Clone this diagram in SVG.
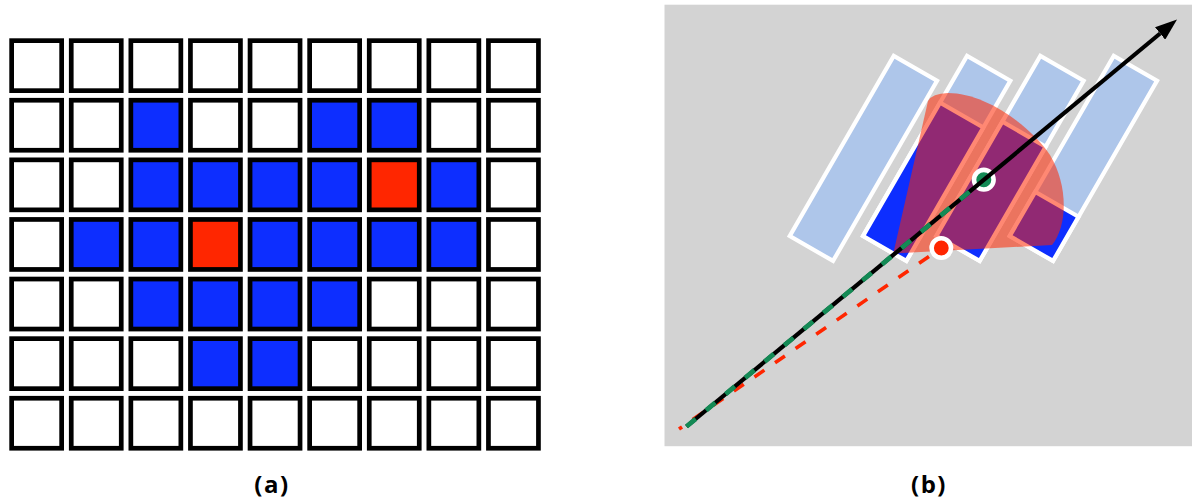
<svg xmlns="http://www.w3.org/2000/svg" width="1192" height="502" viewBox="0 0 1192 502">
<style>
.c{fill:#ffffff;stroke:#000000;stroke-width:4.7}
.b{fill:#0d2eff;stroke:#000000;stroke-width:4.7}
.r{fill:#ff2600;stroke:#000000;stroke-width:4.7}
.lb{fill:#aec6ea;stroke:#ffffff;stroke-width:4.2}
.db{fill:#0d2eff;stroke:#ffffff;stroke-width:4.2}
.lbl{font-family:"Open Sans","Noto Sans",sans-serif;font-weight:bold;font-size:24px;fill:#000;text-anchor:middle;letter-spacing:1.5px}
</style>
<defs>
<marker id="ah" viewBox="0 0 22 16" refX="0" refY="8" markerWidth="22" markerHeight="16" markerUnits="userSpaceOnUse" orient="auto">
<path d="M0,0 L22,8 L0,16 Z" fill="#000"/>
</marker>
</defs>
<rect width="1192" height="502" fill="#ffffff"/>
<g id="panel-a">
<g id="row0">
<rect class="c" x="11.65" y="40.65" width="50" height="50"/><rect class="c" x="71.25" y="40.65" width="50" height="50"/><rect class="c" x="130.85" y="40.65" width="50" height="50"/><rect class="c" x="190.45" y="40.65" width="50" height="50"/><rect class="c" x="250.05" y="40.65" width="50" height="50"/><rect class="c" x="309.65" y="40.65" width="50" height="50"/><rect class="c" x="369.25" y="40.65" width="50" height="50"/><rect class="c" x="428.85" y="40.65" width="50" height="50"/><rect class="c" x="488.45" y="40.65" width="50" height="50"/>
</g>
<g id="row1">
<rect class="c" x="11.65" y="100.25" width="50" height="50"/><rect class="c" x="71.25" y="100.25" width="50" height="50"/><rect class="b" x="130.85" y="100.25" width="50" height="50"/><rect class="c" x="190.45" y="100.25" width="50" height="50"/><rect class="c" x="250.05" y="100.25" width="50" height="50"/><rect class="b" x="309.65" y="100.25" width="50" height="50"/><rect class="b" x="369.25" y="100.25" width="50" height="50"/><rect class="c" x="428.85" y="100.25" width="50" height="50"/><rect class="c" x="488.45" y="100.25" width="50" height="50"/>
</g>
<g id="row2">
<rect class="c" x="11.65" y="159.85" width="50" height="50"/><rect class="c" x="71.25" y="159.85" width="50" height="50"/><rect class="b" x="130.85" y="159.85" width="50" height="50"/><rect class="b" x="190.45" y="159.85" width="50" height="50"/><rect class="b" x="250.05" y="159.85" width="50" height="50"/><rect class="b" x="309.65" y="159.85" width="50" height="50"/><rect class="r" x="369.25" y="159.85" width="50" height="50"/><rect class="b" x="428.85" y="159.85" width="50" height="50"/><rect class="c" x="488.45" y="159.85" width="50" height="50"/>
</g>
<g id="row3">
<rect class="c" x="11.65" y="219.45" width="50" height="50"/><rect class="b" x="71.25" y="219.45" width="50" height="50"/><rect class="b" x="130.85" y="219.45" width="50" height="50"/><rect class="r" x="190.45" y="219.45" width="50" height="50"/><rect class="b" x="250.05" y="219.45" width="50" height="50"/><rect class="b" x="309.65" y="219.45" width="50" height="50"/><rect class="b" x="369.25" y="219.45" width="50" height="50"/><rect class="b" x="428.85" y="219.45" width="50" height="50"/><rect class="c" x="488.45" y="219.45" width="50" height="50"/>
</g>
<g id="row4">
<rect class="c" x="11.65" y="279.05" width="50" height="50"/><rect class="c" x="71.25" y="279.05" width="50" height="50"/><rect class="b" x="130.85" y="279.05" width="50" height="50"/><rect class="b" x="190.45" y="279.05" width="50" height="50"/><rect class="b" x="250.05" y="279.05" width="50" height="50"/><rect class="b" x="309.65" y="279.05" width="50" height="50"/><rect class="c" x="369.25" y="279.05" width="50" height="50"/><rect class="c" x="428.85" y="279.05" width="50" height="50"/><rect class="c" x="488.45" y="279.05" width="50" height="50"/>
</g>
<g id="row5">
<rect class="c" x="11.65" y="338.65" width="50" height="50"/><rect class="c" x="71.25" y="338.65" width="50" height="50"/><rect class="c" x="130.85" y="338.65" width="50" height="50"/><rect class="b" x="190.45" y="338.65" width="50" height="50"/><rect class="b" x="250.05" y="338.65" width="50" height="50"/><rect class="c" x="309.65" y="338.65" width="50" height="50"/><rect class="c" x="369.25" y="338.65" width="50" height="50"/><rect class="c" x="428.85" y="338.65" width="50" height="50"/><rect class="c" x="488.45" y="338.65" width="50" height="50"/>
</g>
<g id="row6">
<rect class="c" x="11.65" y="398.25" width="50" height="50"/><rect class="c" x="71.25" y="398.25" width="50" height="50"/><rect class="c" x="130.85" y="398.25" width="50" height="50"/><rect class="c" x="190.45" y="398.25" width="50" height="50"/><rect class="c" x="250.05" y="398.25" width="50" height="50"/><rect class="c" x="309.65" y="398.25" width="50" height="50"/><rect class="c" x="369.25" y="398.25" width="50" height="50"/><rect class="c" x="428.85" y="398.25" width="50" height="50"/><rect class="c" x="488.45" y="398.25" width="50" height="50"/>
</g>
<text class="lbl" x="272" y="493">(a)</text>
</g>
<g id="panel-b">
<rect id="bg-b" x="664.5" y="4.7" width="527.5" height="441.5" fill="#d3d3d3"/>
<g id="strip1" transform="translate(863.4,158.4) rotate(30)"><rect class="lb" x="-25" y="-104" width="50" height="208"/></g>
<g id="strip2" transform="translate(936.7,158.4) rotate(30)"><rect class="lb" x="-25" y="-104" width="50" height="208"/><rect class="db" x="-25" y="-50" width="50" height="154"/></g>
<g id="strip3" transform="translate(1010,158.4) rotate(30)"><rect class="lb" x="-25" y="-104" width="50" height="208"/><rect class="db" x="-25" y="-28" width="50" height="132"/></g>
<g id="strip4" transform="translate(1083.4,158.4) rotate(30)"><rect class="lb" x="-25" y="-104" width="50" height="208"/><rect class="db" x="-25" y="53" width="50" height="51"/></g>
<g id="fan"><path d="M893.3,253.5 L928,101 Q932,93.5 948,93 C985,93 1030,125 1050,155 C1068,185 1068,225 1052,245 Z" fill="#ff2600" fill-opacity="0.55"/></g>
<text class="lbl" x="929" y="493">(b)</text>
</g>
<g id="connectors">
<line x1="941.3" y1="248" x2="679" y2="429" stroke="#ff2600" stroke-width="3.6" stroke-dasharray="12 13" stroke-dashoffset="10"/>
<g id="red-point"><circle cx="941.3" cy="248" r="9.7" fill="#ff2600" stroke="#ffffff" stroke-width="4.6"/></g>
<g id="green-point"><circle cx="983.8" cy="179.7" r="9.8" fill="#138a55" stroke="#ffffff" stroke-width="4.6"/></g>
<line x1="686.5" y1="426.5" x2="1160.1" y2="33.5" stroke="#000000" stroke-width="4.2" marker-end="url(#ah)"/>
<line x1="686.5" y1="426.5" x2="973.5" y2="188.3" stroke="#138a55" stroke-width="4.8" stroke-dasharray="12 13.4"/>
</g>
</svg>
